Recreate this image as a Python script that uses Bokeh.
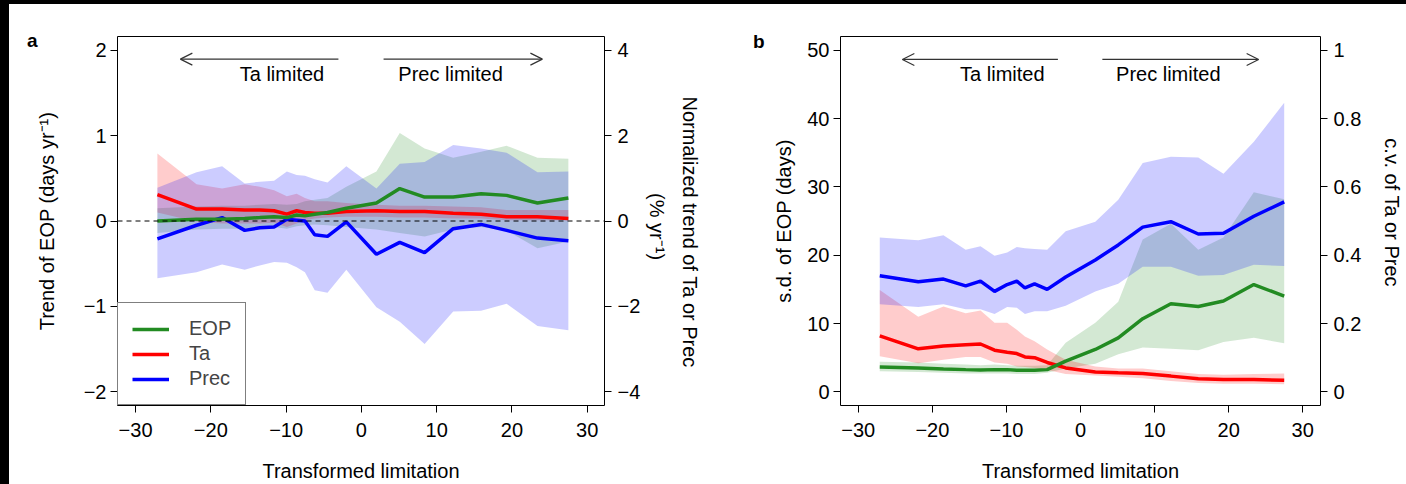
from bokeh.plotting import figure
from bokeh.models import (Range1d, LinearAxis, FixedTicker, Span, Label, Arrow,
                          OpenHead, Legend, LegendItem, Spacer)
from bokeh.layouts import row, column
from bokeh.embed import file_html
from bokeh.resources import INLINE

FONT = "Liberation Sans"
NB = "\u00a0"

# ---------------- data ----------------
x_lim = [-27.1, -21.9, -18.5, -15.5, -13.5, -11.6, -9.9, -8.6, -7.5, -6.2,
         -4.5, -2.0, 2.0, 5.1, 8.4, 12.2, 15.9, 19.3, 23.4, 27.5]

# panel a: trend of EOP (days/yr, left axis)
a_eop = [0.0, 0.02, 0.02, 0.03, 0.04, 0.05, 0.04, 0.07, 0.06, 0.08,
         0.10, 0.15, 0.21, 0.38, 0.28, 0.28, 0.32, 0.30, 0.21, 0.27]
a_eop_hi = [0.15, 0.17, 0.18, 0.18, 0.19, 0.20, 0.19, 0.20, 0.23, 0.25,
            0.27, 0.40, 0.58, 1.03, 0.85, 0.74, 0.81, 0.88, 0.74, 0.73]
a_eop_lo = [-0.14, -0.10, -0.09, -0.09, -0.08, -0.07, -0.09, -0.06, -0.05, -0.04,
            -0.05, -0.07, -0.10, -0.14, -0.18, -0.10, -0.07, -0.11, -0.32, -0.24]
# panel a: normalized trend of Ta / Prec (%/yr, right axis)
a_ta = [0.62, 0.28, 0.28, 0.26, 0.26, 0.24, 0.16, 0.24, 0.20, 0.18,
        0.18, 0.22, 0.24, 0.22, 0.22, 0.18, 0.16, 0.10, 0.10, 0.06]
a_ta_hi = [1.58, 0.86, 0.76, 0.86, 0.80, 0.72, 0.58, 0.64, 0.54, 0.46,
           0.46, 0.42, 0.38, 0.36, 0.36, 0.34, 0.32, 0.26, 0.26, 0.26]
a_ta_lo = [0.20, -0.02, -0.06, -0.06, -0.06, -0.04, -0.14, -0.06, 0.02, 0.06,
           0.08, 0.10, 0.10, 0.08, 0.08, 0.06, 0.06, 0.02, 0.02, 0.02]
a_pr = [-0.42, -0.10, 0.08, -0.22, -0.16, -0.14, 0.04, 0.02, 0.00, -0.32,
        -0.36, -0.02, -0.78, -0.50, -0.74, -0.18, -0.08, -0.22, -0.40, -0.46]
a_pr_hi = [0.78, 1.14, 1.28, 0.88, 0.92, 0.94, 1.16, 1.08, 1.06, 0.98,
           0.90, 1.28, 0.76, 1.34, 1.38, 1.78, 1.70, 1.60, 1.14, 1.16]
a_pr_lo = [-1.34, -1.20, -1.02, -1.14, -1.04, -0.96, -0.98, -1.08, -1.20, -1.62,
           -1.68, -1.14, -2.02, -2.36, -2.88, -2.12, -2.10, -1.94, -2.46, -2.56]

# panel b: s.d. of EOP (days, left axis)
b_eop = [3.65, 3.5, 3.35, 3.25, 3.2, 3.25, 3.25, 3.15, 3.15, 3.15,
         3.25, 4.5, 6.2, 7.9, 10.7, 12.9, 12.5, 13.3, 15.7, 14.0]
b_eop_hi = [4.4, 4.3, 4.1, 4.0, 3.9, 4.0, 3.9, 3.8, 3.8, 3.8,
            3.9, 7.2, 10.1, 13.2, 22.3, 24.6, 20.8, 22.6, 29.2, 28.2]
b_eop_lo = [3.0, 2.9, 2.8, 2.7, 2.7, 2.7, 2.7, 2.6, 2.6, 2.6,
            2.8, 3.4, 4.1, 5.5, 6.5, 6.3, 6.1, 7.3, 7.9, 7.1]
# panel b: c.v. of Ta / Prec (right axis)
b_ta = [0.164, 0.126, 0.134, 0.138, 0.140, 0.122, 0.116, 0.112, 0.102, 0.100,
        0.086, 0.070, 0.058, 0.056, 0.054, 0.046, 0.038, 0.036, 0.036, 0.034]
b_ta_hi = [0.298, 0.220, 0.250, 0.230, 0.238, 0.202, 0.202, 0.182, 0.162, 0.148,
           0.124, 0.094, 0.074, 0.068, 0.068, 0.060, 0.052, 0.050, 0.052, 0.054]
b_ta_lo = [0.104, 0.084, 0.094, 0.102, 0.102, 0.086, 0.082, 0.074, 0.073, 0.070,
           0.064, 0.052, 0.048, 0.044, 0.040, 0.032, 0.026, 0.024, 0.024, 0.022]
b_pr = [0.340, 0.322, 0.330, 0.310, 0.324, 0.294, 0.314, 0.324, 0.304, 0.316,
        0.300, 0.336, 0.386, 0.430, 0.482, 0.498, 0.462, 0.464, 0.514, 0.556]
b_pr_hi = [0.452, 0.444, 0.458, 0.416, 0.426, 0.398, 0.408, 0.424, 0.420, 0.418,
           0.416, 0.470, 0.498, 0.562, 0.670, 0.688, 0.686, 0.638, 0.732, 0.846]
b_pr_lo = [0.256, 0.248, 0.256, 0.242, 0.242, 0.228, 0.248, 0.246, 0.228, 0.236,
           0.236, 0.252, 0.294, 0.316, 0.366, 0.366, 0.340, 0.342, 0.372, 0.368]

x_ticks = [-30, -20, -10, 0, 10, 20, 30]
a_left_ticks = [-2, -1, 0, 1, 2]
a_right_ticks = [-4, -2, 0, 2, 4]
b_left_ticks = [0, 10, 20, 30, 40, 50]
b_right_ticks = [0, 0.2, 0.4, 0.6, 0.8, 1]

GREEN, RED, BLUE = "#228B22", "#FF0000", "#0000FF"


def lab(v):
    return ("%g" % v).replace("-", "\u2212")


def style_axis(ax, ticks, standoff):
    ax.ticker = FixedTicker(ticks=ticks)
    ax.major_label_overrides = {t: lab(t) for t in ticks}
    ax.axis_line_color = None
    ax.major_tick_out = 7
    ax.major_tick_in = 0
    ax.minor_tick_out = 0
    ax.minor_tick_in = 0
    ax.major_tick_line_color = "black"
    ax.major_tick_line_width = 1
    ax.major_label_text_font = FONT
    ax.major_label_text_font_size = "20px"
    ax.major_label_text_color = "black"
    ax.major_label_standoff = standoff
    ax.axis_label_text_font = FONT
    ax.axis_label_text_font_size = "20px"
    ax.axis_label_text_font_style = "normal"
    ax.axis_label_text_color = "black"


def text_axis(p, side, label, standoff, y_range_name="default"):
    ax = LinearAxis(y_range_name=y_range_name)
    style_axis(ax, [], 0)
    ax.major_tick_out = 0
    ax.axis_label = label
    ax.axis_label_standoff = standoff
    p.add_layout(ax, side)
    return ax


def panel_letter(p, letter, y, standoff):
    ax = LinearAxis()
    style_axis(ax, [y], standoff)
    ax.major_label_overrides = {y: letter}
    ax.major_tick_out = 0
    ax.major_label_text_font_style = "bold"
    ax.major_label_text_font_size = "19px"
    p.add_layout(ax, "left")


def make_panel(width, bl, br, xr, yr, ry, lticks, rticks, ylabel, ylabel_standoff,
               rlabel, rlabel_standoff,
               eop, eop_hi, eop_lo, ta, ta_hi, ta_lo, pr, pr_hi, pr_lo):
    p = figure(width=width, height=480, x_range=Range1d(*xr), y_range=Range1d(*yr),
               output_backend="svg", toolbar_location=None,
               min_border_left=bl, min_border_right=br,
               min_border_top=32, min_border_bottom=78)
    p.extra_y_ranges = {"r": Range1d(*ry)}
    p.grid.visible = False
    p.outline_line_color = "black"
    p.outline_line_width = 1
    p.outline_line_alpha = 1
    p.background_fill_color = "white"
    p.border_fill_color = "white"

    style_axis(p.xaxis[0], x_ticks, 10)
    p.xaxis[0].axis_label = "Transformed limitation"
    p.xaxis[0].axis_label_standoff = 20
    style_axis(p.yaxis[0], lticks, 4)
    p.yaxis[0].axis_label = ylabel
    p.yaxis[0].axis_label_standoff = ylabel_standoff
    rax = LinearAxis(y_range_name="r")
    style_axis(rax, rticks, 6)
    rax.axis_label = rlabel
    rax.axis_label_standoff = rlabel_standoff
    p.add_layout(rax, "right")

    p.varea(x=x_lim, y1=eop_lo, y2=eop_hi, fill_color=GREEN, fill_alpha=0.2)
    p.varea(x=x_lim, y1=ta_lo, y2=ta_hi, fill_color=RED, fill_alpha=0.2, y_range_name="r")
    p.varea(x=x_lim, y1=pr_lo, y2=pr_hi, fill_color=BLUE, fill_alpha=0.2, y_range_name="r")
    r_ta = p.line(x_lim, ta, line_color=RED, line_width=3.5, y_range_name="r")
    r_pr = p.line(x_lim, pr, line_color=BLUE, line_width=3.5, y_range_name="r")
    r_eop = p.line(x_lim, eop, line_color=GREEN, line_width=3.5)
    return p, (r_eop, r_ta, r_pr)


def add_arrows(p, y_arrow, y_text):
    for xs, xe in [(-3.05, -24.05), (2.95, 24.05)]:
        p.add_layout(Arrow(x_start=xs, y_start=y_arrow, x_end=xe, y_end=y_arrow,
                           line_color="#333333", line_width=1.2,
                           end=OpenHead(size=12, line_color="#333333", line_width=1.2)))
    for xt, t in [(-10.55, "Ta limited"), (11.85, "Prec limited")]:
        p.add_layout(Label(x=xt, y=y_text, text=t, text_align="center",
                           text_baseline="middle", text_font=FONT,
                           text_font_size="20px", text_color="black"))


# ---------------- panel a ----------------
pa, (ga, ra, ba) = make_panel(714, 108, 119, (-32.4, 32.3), (-2.16, 2.16), (-4.32, 4.32),
                              a_left_ticks, a_right_ticks,
                              "Trend of EOP (days yr\u207b\u00b9)", 23,
                              NB * 2 + "(% yr\u207b\u00b9)", 3,
                              a_eop, a_eop_hi, a_eop_lo, a_ta, a_ta_hi, a_ta_lo,
                              a_pr, a_pr_hi, a_pr_lo)
text_axis(pa, "right", NB * 4 + "Normalized trend of Ta or Prec", 7, "r")
panel_letter(pa, "a", 2.119, -5)
pa.add_layout(Span(location=0, dimension="width", line_color="black",
                   line_width=1, line_dash="5 4"))
add_arrows(pa, 1.895, 1.726)

legend = Legend(items=[LegendItem(label="EOP", renderers=[ga]),
                       LegendItem(label="Ta", renderers=[ra]),
                       LegendItem(label="Prec", renderers=[ba])],
                location="bottom_left", margin=0, padding=14, spacing=2,
                glyph_width=37, glyph_height=18, label_height=18, label_standoff=20,
                label_text_font=FONT, label_text_font_size="20px",
                border_line_color="black", border_line_width=1,
                background_fill_color="white", background_fill_alpha=1)
pa.add_layout(legend)

# ---------------- panel b ----------------
pb, _ = make_panel(683, 117, 82, (-32.4, 32.4), (-2.0, 52.0), (-0.04, 1.04),
                   b_left_ticks, b_right_ticks, "s.d. of EOP (days)", 9,
                   "c.v. of Ta or Prec" + NB * 3, 17,
                   b_eop, b_eop_hi, b_eop_lo, b_ta, b_ta_hi, b_ta_lo,
                   b_pr, b_pr_hi, b_pr_lo)
panel_letter(pb, "b", 51.34, 6)
add_arrows(pb, 48.64, 46.56)

top_bar = Spacer(width=1406, height=4, styles={"background-color": "black"})
left_bar = Spacer(width=9, height=480, styles={"background-color": "black"})
layout = column(top_bar, row(left_bar, pa, pb))

open("out.html", "w").write(file_html(layout, INLINE))
